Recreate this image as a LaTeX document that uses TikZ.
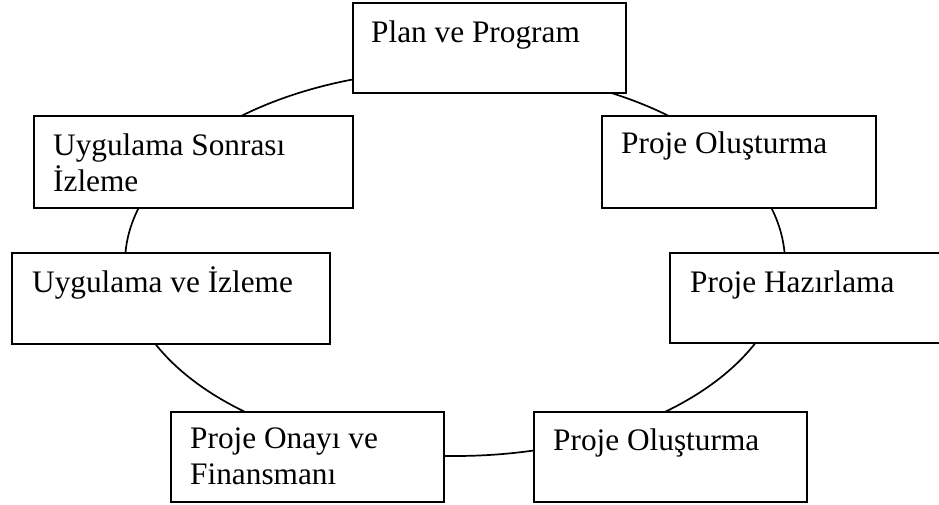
\documentclass[tikz,border=0pt]{standalone}
\usepackage{fontspec}
\setmainfont{Liberation Serif}
\usetikzlibrary{calc}
\tikzset{
  stagebox/.style={draw=black, fill=white, line width=1.9pt, rectangle, inner sep=0pt, anchor=north west},
  stagetext/.style={anchor=base west, inner sep=0pt, font=\fontsize{31.3}{36}\selectfont},
  ring/.style={draw=black, line width=1.7pt}
}
\begin{document}
\begin{tikzpicture}[x=1pt,y=-1pt]
\clip (0,0) rectangle (939,504);
\fill[white] (0,0) rectangle (939,504);
% underlying cycle
\draw[ring] (455,263) ellipse [x radius=330pt, y radius=193pt];
% boxes
\node[stagebox, minimum width=273pt, minimum height=90pt] (b1) at (352,2) {};
\node[stagebox, minimum width=274pt, minimum height=92pt] (b2) at (601,115) {};
\node[stagebox, minimum width=300pt, minimum height=90pt] (b3) at (669,252) {};
\node[stagebox, minimum width=273pt, minimum height=90pt] (b4) at (533,411) {};
\node[stagebox, minimum width=273pt, minimum height=90pt] (b5) at (170,411) {};
\node[stagebox, minimum width=318pt, minimum height=91pt] (b6) at (11,252) {};
\node[stagebox, minimum width=319pt, minimum height=92pt] (b7) at (33,115) {};
% texts
\node[stagetext] (t1) at ($(b1.north west)+(19,40)$) {Plan ve Program};
\node[stagetext] (t2) at ($(b2.north west)+(20,38)$) {Proje Oluşturma};
\node[stagetext] (t3) at ($(b3.north west)+(21,40)$) {Proje Hazırlama};
\node[stagetext] (t4) at ($(b4.north west)+(20,39)$) {Proje Oluşturma};
\node[stagetext] (t5) at ($(b5.north west)+(20,37)$) {\parbox[t]{260pt}{\fontsize{31.3}{36}\selectfont Proje Onayı ve\\Finansmanı}};
\node[stagetext] (t6) at ($(b6.north west)+(21,40)$) {Uygulama ve İzleme};
\node[stagetext] (t7) at ($(b7.north west)+(20,40)$) {\parbox[t]{300pt}{\fontsize{31.3}{36}\selectfont Uygulama Sonrası\\İzleme}};
\end{tikzpicture}
\end{document}
